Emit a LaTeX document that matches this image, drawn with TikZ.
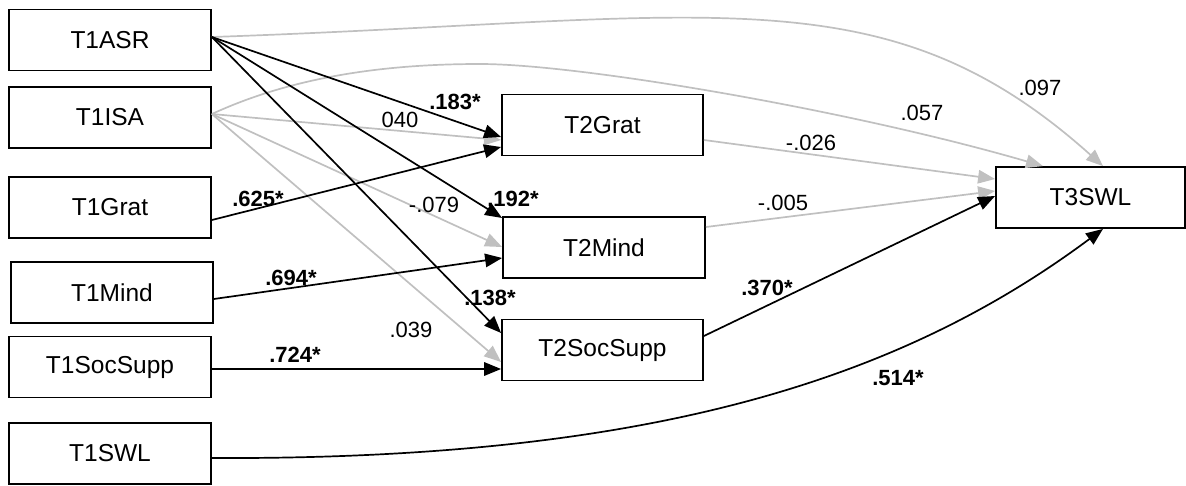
\documentclass[tikz,border=0pt]{standalone}
\usepackage{fontspec}
\setmainfont{Liberation Sans}
\usetikzlibrary{arrows.meta}
\definecolor{lg}{RGB}{192,192,192}
\tikzset{
  box/.style={draw=black, line width=1.8pt, minimum width=202pt, minimum height=61pt, inner sep=0pt, font=\fontsize{24.5}{28}\selectfont},
  blk/.style={draw=black, line width=1.7pt, -{Triangle[length=17pt,width=13.5pt]}},
  gry/.style={draw=lg, line width=1.7pt, -{Triangle[length=17pt,width=13.5pt]}},
  lab/.style={font=\fontsize{22}{24}\selectfont, inner sep=0pt},
  blab/.style={font=\fontsize{22}{24}\selectfont\bfseries, inner sep=0pt},
}
\begin{document}
\begin{tikzpicture}[x=1pt,y=-1pt]
\useasboundingbox (0,0) rectangle (1186,485);
% nodes
\node[box] (a1) at (110,40) {T1ASR};
\node[box] (a2) at (110,117.5) {T1ISA};
\node[box] (a3) at (110,207.5) {T1Grat};
\node[box] (a4) at (112,292.5) {T1Mind};
\node[box] (a5) at (110,367) {T1SocSupp};
\node[box] (a6) at (110,453.5) {T1SWL};
\node[box, minimum width=201pt] (b1) at (602.5,125) {T2Grat};
\node[box] (b2) at (604,247.5) {T2Mind};
\node[box, minimum width=201pt] (b3) at (602.5,350) {T2SocSupp};
\node[box, minimum width=189pt] (c) at (1090.5,197.5) {T3SWL};
\coordinate (peak) at (480,64);
% gray paths
\draw[gry] ([yshift=3pt]a1.east) .. controls (711,20) and (883,-31) .. ([xshift=12.5pt]c.north);
\draw[gry] ([yshift=3.5pt]a2.east) .. controls (290,78) and (380,64) .. (peak) .. controls (580,64) and (850,110) .. ([xshift=-47.5pt]c.north);
\draw[gry] ([yshift=3.5pt]a2.east) -- ([yshift=-15pt]b1.west);
\draw[gry] ([yshift=3.5pt]a2.east) -- ([yshift=0.5pt]b2.west);
\draw[gry] ([yshift=3.5pt]a2.east) -- ([yshift=-12pt]b3.west);
\draw[gry] ([yshift=-15pt]b1.east) -- ([yshift=18.5pt]c.west);
\draw[gry] ([yshift=20.5pt]b2.east) -- ([yshift=6.5pt]c.west);
% black paths
\draw[blk] ([yshift=3pt]a1.east) -- ([yshift=-12pt]b1.west);
\draw[blk] ([yshift=3pt]a1.east) -- ([yshift=29.5pt]b2.west);
\draw[blk] ([yshift=3pt]a1.east) -- ([yshift=17pt]b3.west);
\draw[blk] ([yshift=-12.5pt]a3.east) -- ([yshift=-22pt]b1.west);
\draw[blk] ([yshift=-6.5pt]a4.east) -- ([yshift=-10.5pt]b2.west);
\draw[blk] ([yshift=-2pt]a5.east) -- ([yshift=-19pt]b3.west);
\draw[blk] ([yshift=14pt]b3.east) -- ([yshift=1.5pt]c.west);
\draw[blk] ([yshift=-4.5pt]a6.east) .. controls (650,460) and (900,380) .. ([xshift=12.5pt]c.south);
% labels
\node[blab] (l183) at (455,102) {.183*};
\node[lab] (l040) at (400,120) {040};
\node[lab] (l079) at (434,205) {-.079};
\node[blab] (l192) at (513,199) {.192*};
\node[blab] (l625) at (258,199) {.625*};
\node[blab] (l694) at (291,278) {.694*};
\node[blab] (l138) at (490,298) {.138*};
\node[lab] (l039) at (411,330) {.039};
\node[blab] (l724) at (295,355) {.724*};
\node[lab] (l026) at (811,143) {-.026};
\node[lab] (l005) at (783,203) {-.005};
\node[lab] (l057) at (922,113) {.057};
\node[lab] (l097) at (1040,88) {.097};
\node[blab] (l370) at (767,288) {.370*};
\node[blab] (l514) at (898,378) {.514*};
\end{tikzpicture}
\end{document}
